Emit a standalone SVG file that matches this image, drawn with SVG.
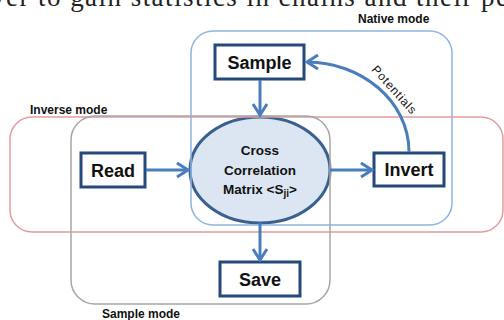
<svg xmlns="http://www.w3.org/2000/svg" width="504" height="320" viewBox="0 0 504 320">
<style>
.mode{fill:none;stroke-width:1.5}
.lbl{font-family:"Liberation Sans",Arial,sans-serif;font-weight:bold;font-size:12px;fill:#111}
.node rect{fill:#fff;stroke:#24497A;stroke-width:3}
.nt{font-family:"Liberation Sans",Arial,sans-serif;font-weight:bold;font-size:18px;fill:#111;text-anchor:middle}
.et{font-family:"Liberation Sans",Arial,sans-serif;font-weight:bold;font-size:13.5px;fill:#111;text-anchor:middle}
.conn{fill:none;stroke:#4A7EBB;stroke-width:3}
</style>
<defs>
<marker id="arr" markerUnits="userSpaceOnUse" markerWidth="16" markerHeight="18" refX="12" refY="8" orient="auto" overflow="visible">
<path d="M1,1 L12,8 L1,15" fill="none" stroke="#4A7EBB" stroke-width="3" stroke-linejoin="miter"/>
</marker>
</defs>
<text x="-9" y="6" font-family="'Liberation Serif','Times New Roman',serif" font-size="27" textLength="517" lengthAdjust="spacing" fill="#222">ver to gain statistics in chains and their pe</text>
<g id="matrix" class="node">
<ellipse cx="260" cy="170" rx="70" ry="53" fill="#DCE6F2" stroke="#3A6090" stroke-width="3"/>
<text class="et" x="260" y="155">Cross</text>
<text class="et" x="260" y="175">Correlation</text>
<text class="et" x="260" y="194">Matrix &lt;S<tspan font-size="10" dy="3">ji</tspan><tspan dy="-3">&gt;</tspan></text>
</g>
<g id="native-mode">
<rect class="mode" x="191" y="31" width="261" height="194" rx="22" stroke="#8EB4E3"/>
<text class="lbl" x="358" y="23">Native mode</text>
</g>
<g id="inverse-mode">
<rect class="mode" x="10" y="117" width="493" height="115" rx="22" stroke="#E39C9C"/>
<text class="lbl" x="30" y="114">Inverse mode</text>
</g>
<g id="sample-mode">
<rect class="mode" x="71" y="116" width="259" height="188" rx="24" stroke="#A6A6A6"/>
<text class="lbl" x="102" y="318">Sample mode</text>
</g>
<g id="sample" class="node">
<rect x="215" y="45" width="89" height="34"/>
<text class="nt" x="259.5" y="68.5">Sample</text>
</g>
<g id="read" class="node">
<rect x="81" y="153" width="64" height="34"/>
<text class="nt" x="113" y="176.5">Read</text>
</g>
<g id="invert" class="node">
<rect x="374" y="153" width="70" height="33"/>
<text class="nt" x="409" y="176">Invert</text>
</g>
<g id="save" class="node">
<rect x="220" y="262" width="80" height="34"/>
<text class="nt" x="260" y="285.5">Save</text>
</g>
<g id="connectors">
<line class="conn" x1="260" y1="80" x2="260" y2="115" marker-end="url(#arr)"/>
<line class="conn" x1="146" y1="170" x2="188" y2="170" marker-end="url(#arr)"/>
<line class="conn" x1="330" y1="170" x2="372" y2="170" marker-end="url(#arr)"/>
<line class="conn" x1="260" y1="223" x2="260" y2="260" marker-end="url(#arr)"/>
<path class="conn" d="M409,152 C409,100 360,62 307,62" marker-end="url(#arr)"/>
<text x="0" y="0" transform="translate(371,70) rotate(48)" font-family="'Liberation Sans',Arial,sans-serif" font-size="12" textLength="60" fill="#111">Potentials</text>
</g>
</svg>
